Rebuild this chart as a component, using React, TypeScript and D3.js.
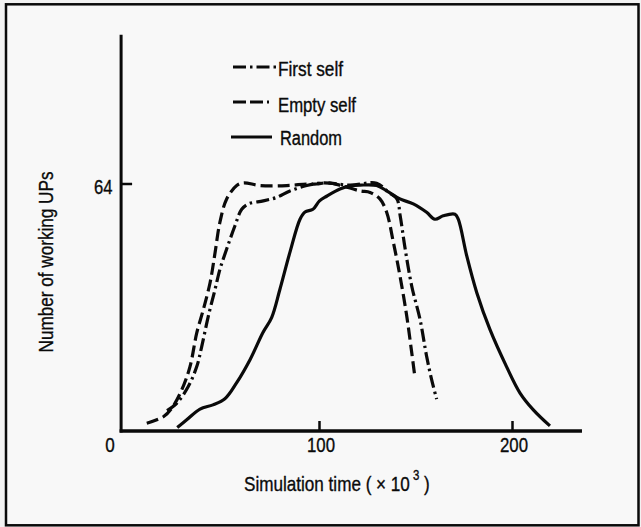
import React from "react";
import * as d3 from "d3";

// ---- data (x in units of 10^3 simulation time, y = number of working UPs)
const randomX = [26.3, 31.2, 38.1, 44.8, 51, 57.1, 64, 70.7, 75.2, 79.5, 84.7, 89.9, 92.5, 96.6, 100, 103.7, 110.6, 116, 121, 129.6, 134.8, 141.7, 148.6, 155.5, 159.8, 164.1, 170.2, 171.9, 176.3, 181.5, 188.3, 196.9, 203.9, 210.8, 219.4];
const randomY = [0.4, 2.4, 5.2, 6.3, 7.9, 12.1, 18.1, 25.2, 29.1, 36.5, 46.2, 54.8, 56.7, 57.4, 59.6, 60.8, 62.7, 63.5, 63.7, 63.6, 62.2, 60.1, 58.8, 56.6, 54.8, 55.7, 56.1, 54.8, 45.2, 35.6, 26, 16.3, 9.4, 5, 0.8];

const emptyX = [10.5, 19.1, 23.4, 28.6, 32.9, 36.4, 39.8, 43.3, 45.9, 48.4, 51.9, 57.1, 60.5, 69.2, 83, 93.4, 98.5, 103.7, 110.6, 121, 126.2, 131.3, 134.8, 138.3, 141.7, 145.2, 147.8, 149.5];
const emptyY = [1.5, 3.2, 5.4, 10.2, 16.3, 25.1, 31.2, 38.2, 46.1, 54, 60.1, 63.6, 64.3, 63.6, 63.6, 64, 64, 64.3, 63.7, 62.2, 61.8, 60.1, 56.6, 48.7, 40, 29.5, 19.9, 13.3];

const firstX = [21, 26, 32, 36.4, 39, 42.4, 45.9, 48.4, 51.9, 56.2, 59.7, 63.1, 70.9, 77.8, 84.7, 93.4, 102, 115.8, 129.6, 135.8, 140.1, 141.8, 144.4, 147.8, 152.1, 155.5, 158.1, 160.7];
const firstY = [4.8, 6.7, 11.1, 16.3, 21.6, 29.5, 36.5, 41.7, 47, 53.1, 57.4, 58.8, 59.6, 60.5, 62.2, 63.6, 64.3, 63.7, 64.2, 61.8, 60.1, 55.7, 47, 37.3, 28.6, 19, 12.9, 7.8];

const xTicks = [0, 100, 200];
const yTicks = [64];
const seriesNames = ["First self", "Empty self", "Random"];

const W = 641;
const H = 527;

const FONT = "'Liberation Sans Narrow', 'Liberation Sans', Arial, sans-serif";
const INK = "#0a0a0a";

export default function App() {
  const x = d3.scaleLinear().domain([0, 200]).range([126.5, 512.5]);
  const y = d3.scaleLinear().domain([0, 64]).range([429, 184]);

  const line = d3
    .line<[number, number]>()
    .x((d) => x(d[0]))
    .y((d) => y(d[1]))
    .curve(d3.curveCatmullRom.alpha(0.5));

  const zip = (a: number[], b: number[]) => a.map((v, i) => [v, b[i]] as [number, number]);

  const series = [
    { name: seriesNames[0], pts: zip(firstX, firstY), dash: "13 4 2.5 4" },
    { name: seriesNames[1], pts: zip(emptyX, emptyY), dash: "12 5" },
    { name: seriesNames[2], pts: zip(randomX, randomY), dash: "none" },
  ];

  const axisX0 = x(-2.8);
  const axisX1 = x(236);
  const axisY0 = y(0) + 2;
  const axisYTop = y(103);

  const legend = [
    { x1: 233, x2: 277, ly: 67, tx: 278, ty: 75.5, tl: 65, dash: "13 4 2.5 4" },
    { x1: 233, x2: 269, ly: 102, tx: 278, ty: 111.5, tl: 78, dash: "13 4" },
    { x1: 231, x2: 272, ly: 137, tx: 280, ty: 145, tl: 62, dash: "none" },
  ];

  const textStyle = { stroke: INK, strokeWidth: 0.35 } as React.CSSProperties;
  const SX = 0.815;

  return (
    <div style={{ position: "fixed", left: 0, top: 0 }}>
      <svg width={W} height={H} style={{ display: "block" }}>
        <rect x={0} y={0} width={W} height={H} fill="#f2f2f2" />
        <rect x={6} y={4.3} width={632.5} height={521} fill="#f8f8f8" stroke={INK} strokeWidth={2.5} />

        {/* axes */}
        <line x1={axisX0} x2={axisX0} y1={axisYTop} y2={axisY0 + 1.5} stroke={INK} strokeWidth={3} />
        <line x1={axisX0 - 1.5} x2={axisX1} y1={axisY0} y2={axisY0} stroke={INK} strokeWidth={3.5} />
        {xTicks.filter((t) => t > 0).map((t) => (
          <line key={t} x1={x(t)} x2={x(t)} y1={axisY0} y2={axisY0 - 10} stroke={INK} strokeWidth={2.5} />
        ))}
        {yTicks.map((t) => (
          <line key={t} x1={axisX0} x2={axisX0 + 11} y1={y(t)} y2={y(t)} stroke={INK} strokeWidth={2.5} />
        ))}

        {/* tick labels */}
        {xTicks.map((t) => (
          <text
            key={t}
            x={t === 0 ? axisX0 - 11 : x(t) + 1.5}
            y={452}
            textAnchor="middle"
            fontFamily={FONT}
            fontSize={21}
            fill={INK}
            style={textStyle}
            textLength={t === 0 ? 9.5 : 28}
            lengthAdjust="spacingAndGlyphs"
          >
            {t}
          </text>
        ))}
        {yTicks.map((t) => (
          <text
            key={t}
            x={112.5}
            y={193.5}
            textAnchor="end"
            fontFamily={FONT}
            fontSize={21}
            fill={INK}
            style={textStyle}
            textLength={18.5}
            lengthAdjust="spacingAndGlyphs"
          >
            {t}
          </text>
        ))}

        {/* x-axis title, condensed by a horizontal scale */}
        <g transform={`translate(244,491) scale(${SX},1)`}>
          <text x={0} y={0} fontFamily={FONT} fontSize={21} fill={INK} style={textStyle}>
            Simulation time ( × 10
          </text>
          <text x={(413 - 244) / SX} y={-11} fontFamily={FONT} fontSize={14} fill={INK} style={textStyle}>
            3
          </text>
          <text x={(424 - 244) / SX} y={0} fontFamily={FONT} fontSize={21} fill={INK} style={textStyle}>
            )
          </text>
        </g>
        <text
          transform={`translate(53,262) rotate(-90)`}
          textAnchor="middle"
          fontFamily={FONT}
          fontSize={21}
          fill={INK}
          style={textStyle}
          textLength={181}
          lengthAdjust="spacingAndGlyphs"
        >
          Number of working UPs
        </text>

        {/* curves */}
        {series.map((s) => (
          <path
            key={s.name}
            d={line(s.pts) || ""}
            fill="none"
            stroke={INK}
            strokeWidth={3.2}
            strokeDasharray={s.dash}
            strokeLinejoin="round"
          />
        ))}

        {/* legend */}
        {legend.map((l, i) => (
          <g key={i}>
            <line x1={l.x1} x2={l.x2} y1={l.ly} y2={l.ly} stroke={INK} strokeWidth={3} strokeDasharray={l.dash} />
            <text
              x={l.tx}
              y={l.ty}
              fontFamily={FONT}
              fontSize={20}
              fill={INK}
              style={textStyle}
              textLength={l.tl}
              lengthAdjust="spacingAndGlyphs"
            >
              {seriesNames[i]}
            </text>
          </g>
        ))}
      </svg>
    </div>
  );
}
